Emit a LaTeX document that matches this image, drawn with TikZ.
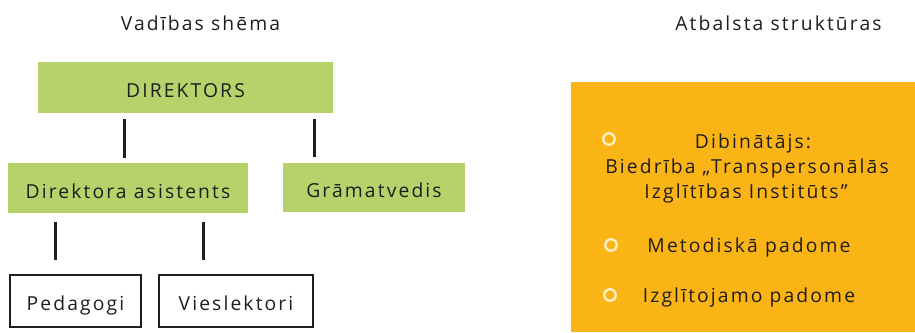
\documentclass[tikz,border=0pt]{standalone}
\usepackage{fontspec}
\setmainfont{Open Sans}[LetterSpace=11]
\usetikzlibrary{calc}
\definecolor{boxgreen}{HTML}{B6D36B}
\definecolor{boxorange}{HTML}{FBB416}
\definecolor{inkgray}{HTML}{1E1E1E}
\definecolor{bulletcream}{HTML}{FFF2C8}
\begin{document}
\begin{tikzpicture}[x=1pt,y=-1pt,
  every node/.style={font=\fontsize{19.3}{25}\selectfont, text=inkgray},
  txt/.style={anchor=base, inner sep=0pt},
  gbox/.style={fill=boxgreen, inner sep=0pt, text height=20pt, text depth=0pt},
  wbox/.style={draw=inkgray, line width=1.3pt, fill=white, inner sep=0pt, text height=18pt, text depth=0pt},
  conn/.style={draw=inkgray, line width=3pt},
  bul/.style={circle, draw=bulletcream, line width=2.3pt, minimum size=11.5pt, inner sep=0pt}]
\useasboundingbox (0,0) rectangle (915,332);
\fill[white] (0,0) rectangle (915,332);
% titles
\node[txt] (t1) at (200.5,30) {Vadības shēma};
\node[txt] (t2) at (778.5,30) {Atbalsta struktūras};
% management boxes
\node[gbox, minimum width=295pt, minimum height=51pt] (dir) at (185.5,87.5) {DIREKTORS};
\node[gbox, minimum width=240pt, minimum height=50pt] (asis) at (128,188) {Direktora asistents};
\node[gbox, minimum width=182pt, minimum height=49pt] (gram) at (374,187.5) {Grāmatvedis};
\node[wbox, minimum width=131pt, minimum height=52pt] (ped) at (75.5,301) {Pedagogi};
\node[wbox, minimum width=154pt, minimum height=52pt] (vies) at (236,301) {Vieslektori};
% connectors
\draw[conn] ($(dir.south)+(-61.5,6)$) -- ($(asis.north)+(-4,-5)$);
\draw[conn] ($(dir.south)+(128.5,6)$) -- ($(gram.north)+(-60,-6)$);
\draw[conn] ($(asis.south)+(-73,9)$) -- ($(ped.north)+(-20.5,-14)$);
\draw[conn] ($(asis.south)+(75,9)$) -- ($(vies.north)+(-33,-14)$);
% support structures
\node[fill=boxorange, minimum width=344pt, minimum height=250pt, inner sep=0pt] (sup) at (743,207) {};
\node[bul] (b1) at (609,139) {};
\node[txt] (s1) at (753,148) {Dibinātājs:};
\node[txt] (s2) at (747,173) {Biedrība „Transpersonālās};
\node[txt] (s3) at (746,198) {Izglītības Institūts”};
\node[bul] (b2) at (611,245) {};
\node[txt] (s4) at (749,252) {Metodiskā padome};
\node[bul] (b3) at (610,295) {};
\node[txt] (s5) at (749,302) {Izglītojamo padome};
\end{tikzpicture}
\end{document}
